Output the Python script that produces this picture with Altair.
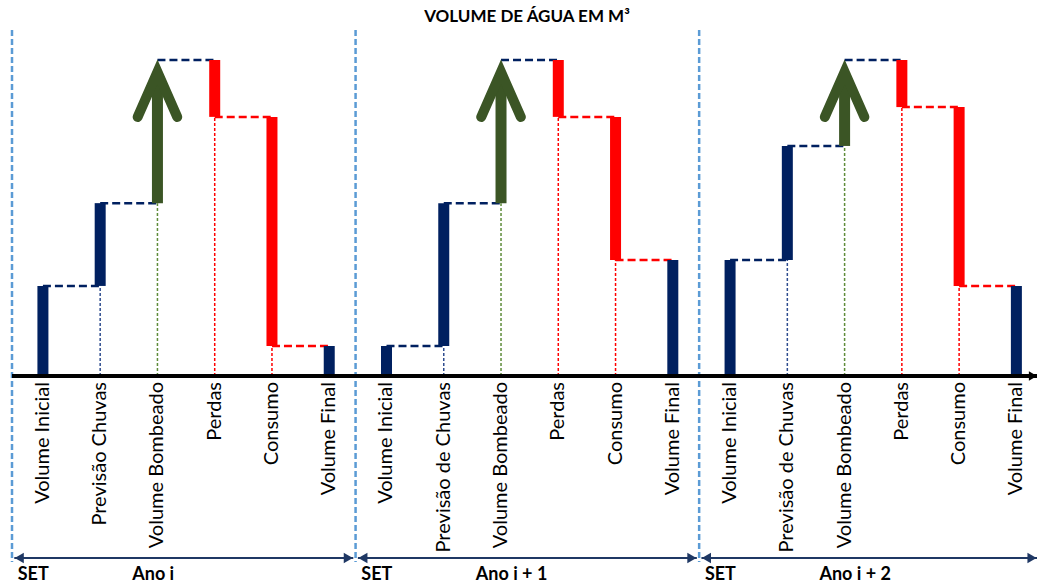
import altair as alt
import pandas as pd

# ---------------- data ----------------
titulo = "VOLUME DE ÁGUA EM M³"
anos = ["Ano i", "Ano i + 1", "Ano i + 2"]
inicio = "SET"
categorias = [
    ["Volume Inicial", "Previsão Chuvas", "Volume Bombeado", "Perdas", "Consumo", "Volume Final"],
    ["Volume Inicial", "Previsão de Chuvas", "Volume Bombeado", "Perdas", "Consumo", "Volume Final"],
    ["Volume Inicial", "Previsão de Chuvas", "Volume Bombeado", "Perdas", "Consumo", "Volume Final"],
]
volume_inicial = [28.5, 9.5, 36.7]
previsao_chuvas = [26.2, 45.2, 36.1]
volume_bombeado = [45.3, 45.3, 27.2]
perdas = [18.0, 18.0, 14.9]
consumo = [72.5, 45.3, 56.6]

# ---------------- styles ----------------
NAVY = "#002060"
RED = "#FF0000"
GREEN = "#3B5525"
GUIDE_NAVY = "#2F4D8F"
GUIDE_GREEN = "#5E8C3A"
SEP = "#5B9BD5"
ARROW_NAVY = "#1F3864"
FONT = "Lato"

SLOTS = 6
OFFSET = 0.54
XMAX = 17.9

bars, links, guides, shafts, heads, labels = [], [], [], [], [], []
for p in range(len(anos)):
    base = p * SLOTS
    xs = [base + k + OFFSET for k in range(SLOTS)]
    vi = volume_inicial[p]
    l1 = vi + previsao_chuvas[p]
    l2 = l1 + volume_bombeado[p]
    l3 = l2 - perdas[p]
    l4 = l3 - consumo[p]
    levels = [vi, l1, l2, l3, l4]
    bars += [
        dict(x=xs[0], y=0, y2=vi, c="navy"),
        dict(x=xs[1], y=vi, y2=l1, c="navy"),
        dict(x=xs[3], y=l3, y2=l2, c="red"),
        dict(x=xs[4], y=l4, y2=l3, c="red"),
        dict(x=xs[5], y=0, y2=l4, c="navy"),
    ]
    shafts.append(dict(x=xs[2], y=l1, y2=l2))
    heads.append(dict(x=xs[2], y=l2))
    link_cols = ["navy", "navy", "navy", "red", "red"]
    for k in range(5):
        links.append(dict(x=xs[k], x2=xs[k + 1], y=levels[k], c=link_cols[k]))
    guides += [
        dict(x=xs[1], y=0, y2=vi, c="gnavy"),
        dict(x=xs[2], y=0, y2=l1, c="ggreen"),
        dict(x=xs[3], y=0, y2=l3, c="red"),
        dict(x=xs[4], y=0, y2=l4, c="red"),
    ]
    for k in range(SLOTS):
        labels.append(dict(x=xs[k], t=categorias[p][k]))

df_bars = pd.DataFrame(bars)
df_links = pd.DataFrame(links)
df_guides = pd.DataFrame(guides)
df_shafts = pd.DataFrame(shafts)
df_heads = pd.DataFrame(heads)
df_labels = pd.DataFrame(labels)
df_sep = pd.DataFrame({"x": [p * SLOTS for p in range(len(anos))]})
df_span = pd.DataFrame({"x": [p * SLOTS + 0.04 for p in range(len(anos))],
                        "x2": [min(p * SLOTS + SLOTS - 0.04, XMAX) for p in range(len(anos))]})
df_set = pd.DataFrame({"x": [p * SLOTS + 0.1 for p in range(len(anos))], "t": [inicio] * len(anos)})
df_ano = pd.DataFrame({"x": [p * SLOTS + 2.1 for p in range(len(anos))], "t": anos})
df_axis = pd.DataFrame({"x": [0], "x2": [XMAX], "y": [0]})

xs_ = alt.Scale(domain=[0, XMAX], range=[12, 1037])
ys_ = alt.Scale(domain=[0, 100], range=[376, 60])
cs_ = alt.Scale(domain=["navy", "red", "gnavy", "ggreen"], range=[NAVY, RED, GUIDE_NAVY, GUIDE_GREEN])

X = lambda f="x": alt.X(f"{f}:Q", scale=xs_, axis=None)
Y = lambda f="y": alt.Y(f"{f}:Q", scale=ys_, axis=None)
C = alt.Color("c:N", scale=cs_, legend=None)

sep = alt.Chart(df_sep).mark_rule(color=SEP, strokeWidth=2.5, strokeDash=[6, 3]).encode(
    x=X(), y=alt.value(30), y2=alt.value(562))

guide = alt.Chart(df_guides).mark_rule(strokeWidth=1.5, strokeDash=[3, 2]).encode(
    x=X(), y=Y(), y2="y2:Q", color=C)

link = alt.Chart(df_links).mark_rule(strokeWidth=2.5, strokeDash=[8, 4]).encode(
    x=X(), x2="x2:Q", y=Y(), color=C)

bar = alt.Chart(df_bars).mark_rule(strokeWidth=11, strokeCap="butt").encode(
    x=X(), y=Y(), y2="y2:Q", color=C)

shaft = alt.Chart(df_shafts).mark_rule(strokeWidth=11, color=GREEN, y2Offset=14).encode(
    x=X(), y=Y(), y2="y2:Q")

head = alt.Chart(df_heads).mark_point(
    shape="M-0.44,1L0,0L0.44,1", filled=False, strokeWidth=10, strokeJoin="miter",
    strokeCap="round", size=8100, color=GREEN, opacity=1, yOffset=12).encode(x=X(), y=Y())

axis_line = alt.Chart(df_axis).mark_rule(color="black", strokeWidth=4).encode(
    x=X(), x2="x2:Q", y=Y())
axis_tip = alt.Chart(df_axis).mark_point(shape="triangle-right", filled=True, size=90,
                                         color="black", opacity=1, xOffset=-4).encode(
    x=X("x2"), y=Y())

label = alt.Chart(df_labels).mark_text(angle=270, align="right", baseline="middle",
                                       font=FONT, fontSize=20, color="black").encode(
    x=X(), y=alt.value(382), text="t:N")

span = alt.Chart(df_span).mark_rule(color=ARROW_NAVY, strokeWidth=1.8).encode(
    x=X(), x2="x2:Q", y=alt.value(558))
span_l = alt.Chart(df_span).mark_point(shape="triangle-left", filled=True, size=110,
                                       color=ARROW_NAVY, opacity=1, xOffset=5).encode(
    x=X(), y=alt.value(558))
span_r = alt.Chart(df_span).mark_point(shape="triangle-right", filled=True, size=110,
                                       color=ARROW_NAVY, opacity=1, xOffset=-5).encode(
    x=X("x2"), y=alt.value(558))

set_txt = alt.Chart(df_set).mark_text(align="left", baseline="middle", font=FONT,
                                      fontSize=18, fontWeight="bold", color="black").encode(
    x=X(), y=alt.value(575), text="t:N")
ano_txt = alt.Chart(df_ano).mark_text(align="left", baseline="middle", font=FONT,
                                      fontSize=18, fontWeight="bold", color="black").encode(
    x=X(), y=alt.value(575), text="t:N")

title = alt.Chart(pd.DataFrame({"t": [titulo]})).mark_text(
    align="center", baseline="middle", font=FONT, fontSize=17, fontWeight="bold",
    color="black").encode(x=alt.value(527), y=alt.value(17), text="t:N")

chart = alt.layer(
    sep, guide, link, bar, shaft, head, axis_line, axis_tip, label,
    span, span_l, span_r, set_txt, ano_txt, title
).properties(
    width=1037, height=585, padding=0, autosize=alt.AutoSizeParams(type="none"),
    background="white"
).configure_view(stroke=None)

chart.save("out.html", embed_options={"renderer": "svg", "actions": False})
